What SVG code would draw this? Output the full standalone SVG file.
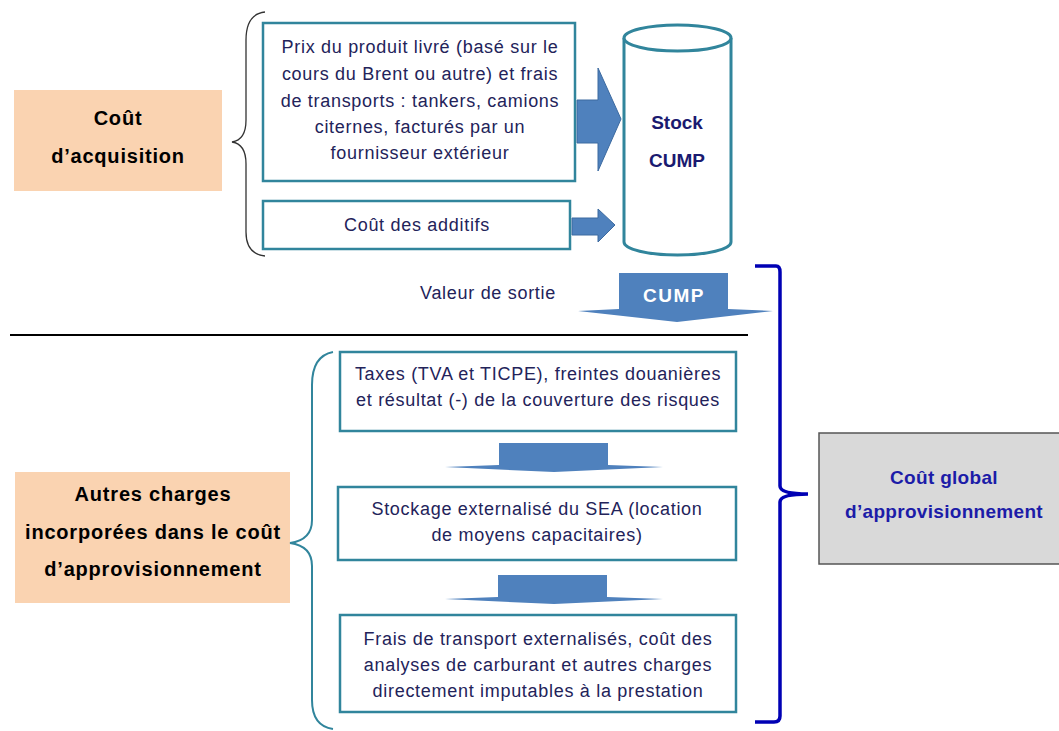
<svg xmlns="http://www.w3.org/2000/svg" width="1059" height="731" viewBox="0 0 1059 731">
<style>
.peach{fill:#fad3b1;stroke:none}
.tbox{fill:#fff;stroke:#31859c;stroke-width:2.5}
.t{font-family:"Liberation Sans",Arial,sans-serif;font-size:18px;letter-spacing:0.7px;fill:#23235a;text-anchor:middle}
.hb{font-family:"Liberation Sans",Arial,sans-serif;font-size:20px;letter-spacing:0.8px;font-weight:bold;fill:#000;text-anchor:middle}
.nv{font-family:"Liberation Sans",Arial,sans-serif;font-size:19px;font-weight:bold;fill:#1a1a70;text-anchor:middle}
.bl{font-family:"Liberation Sans",Arial,sans-serif;font-size:19px;letter-spacing:0.3px;font-weight:bold;fill:#1c1ca8;text-anchor:middle}
.arr{fill:#4f81bd;stroke:#3c6aa0;stroke-width:1}
</style>
<rect width="1059" height="731" fill="#fff"/>

<g id="cout-acquisition">
<rect class="peach" x="14" y="90" width="208" height="101"/>
<text class="hb" x="118" y="125">Coût</text>
<text class="hb" x="118" y="163">d’acquisition</text>
</g>

<g id="box-prix">
<rect class="tbox" x="263" y="23" width="312" height="158"/>
<text class="t" x="420" y="53">Prix du produit livré (basé sur le</text>
<text class="t" x="420" y="80">cours du Brent ou autre) et frais</text>
<text class="t" x="420" y="107">de transports : tankers, camions</text>
<text class="t" x="420" y="133">citernes, facturés par un</text>
<text class="t" x="420" y="159">fournisseur extérieur</text>
</g>

<g id="box-additifs">
<rect class="tbox" x="263" y="201" width="307" height="48"/>
<text class="t" x="417" y="231">Coût des additifs</text>
</g>

<g id="stock">
<path d="M624,38 L624,242 A53.5,13 0 0 0 731,242 L731,38" fill="#fff" stroke="#31859c" stroke-width="3"/>
<ellipse cx="677.5" cy="38" rx="53.5" ry="13" fill="#fff" stroke="#31859c" stroke-width="3"/>
<text class="nv" x="677" y="129">Stock</text>
<text class="nv" x="677" y="167">CUMP</text>
</g>

<g id="valeur-sortie">
<text class="t" x="488" y="299">Valeur de sortie</text>
</g>

<g id="separator">
<line x1="10" y1="335" x2="748" y2="335" stroke="#000" stroke-width="2"/>
</g>

<g id="cout-global">
<rect x="819" y="433" width="245" height="131" fill="#d9d9d9" stroke="#555" stroke-width="1.5"/>
<text class="bl" x="944" y="484">Coût global</text>
<text class="bl" x="944" y="518">d’approvisionnement</text>
</g>

<g id="autres-charges">
<rect class="peach" x="15" y="472" width="275" height="131"/>
<text class="hb" x="153" y="501">Autres charges</text>
<text class="hb" x="153" y="539">incorporées dans le coût</text>
<text class="hb" x="153" y="576">d’approvisionnement</text>
</g>

<g id="box-taxes">
<rect class="tbox" x="340" y="352" width="396" height="79"/>
<text class="t" x="538" y="380">Taxes (TVA et TICPE), freintes douanières</text>
<text class="t" x="538" y="406">et résultat (-) de la couverture des risques</text>
</g>

<g id="box-stockage">
<rect class="tbox" x="338" y="487" width="398" height="73"/>
<text class="t" x="537" y="515">Stockage externalisé du SEA (location</text>
<text class="t" x="537" y="541">de moyens capacitaires)</text>
</g>

<g id="box-frais">
<rect class="tbox" x="340" y="615" width="396" height="97"/>
<text class="t" x="538" y="645">Frais de transport externalisés, coût des</text>
<text class="t" x="538" y="671">analyses de carburant et autres charges</text>
<text class="t" x="538" y="697">directement imputables à la prestation</text>
</g>

<g id="connectors">
<path d="M265,12 Q246,14 246,40 L246,120 Q246,140 232,142 Q246,144 246,164 L246,232 Q246,254 265,256" fill="none" stroke="#333" stroke-width="1.3"/>
<path d="M333,352 Q312,356 312,385 L312,520 Q312,540 290,543 Q312,546 312,566 L312,700 Q312,726 333,729" fill="none" stroke="#31859c" stroke-width="2"/>
<path d="M755,266 L776,266 Q780,266 780,272 L780,486 Q780,494 808,494 Q780,494 780,502 L780,716 Q780,722 774,722 L755,722" fill="none" stroke="#0000b4" stroke-width="3.5"/>
<path class="arr" d="M577,100 L598,100 L598,68 L621,119 L598,171 L598,143 L577,143 Z"/>
<path class="arr" d="M572,218 L598,218 L598,209 L615,225 L598,242 L598,235 L572,235 Z"/>
<path d="M619,273 L728,273 L728,309 L773,311 L677,322 L578,311 L619,309 Z" fill="#4f81bd"/>
<text x="674" y="302" font-family="Liberation Sans,Arial,sans-serif" font-size="19" letter-spacing="1.5" font-weight="bold" fill="#fff" text-anchor="middle">CUMP</text>
<path d="M499,443 L608,443 L608,465 L663,467 L554,472 L445,467 L499,465 Z" fill="#4f81bd"/>
<path d="M498,575 L607,575 L607,597 L663,599 L554,604 L445,599 L498,597 Z" fill="#4f81bd"/>
</g>
</svg>
